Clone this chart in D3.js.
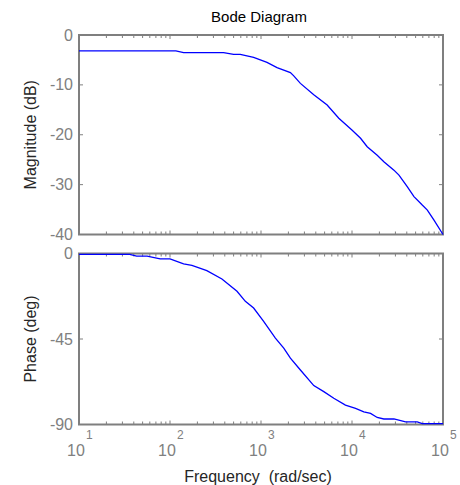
<!DOCTYPE html>
<html>
<head>
<meta charset="utf-8">
<script src="https://cdn.jsdelivr.net/npm/d3@7"></script>
<style>
  body { margin: 0; background: #fff; }
  text { font-family: "Liberation Sans", Arial, sans-serif; }
</style>
</head>
<body>
<svg id="chart"></svg>
<script>
// frequency (rad/sec) and magnitude (dB)
var magFreq = [10, 116, 141, 388, 500, 592, 830, 1164, 1500, 2104, 2291, 2710, 3802, 5333, 7161, 10046, 12417, 14689, 18923, 22387, 28907, 32810, 40458, 47973, 59156, 67298, 79616, 100000];
var magDb   = [-3.2, -3.2, -3.55, -3.55, -3.9, -3.9, -4.5, -5.5, -6.55, -7.55, -8.2, -9.7, -12.0, -14.05, -16.7, -19.1, -20.7, -22.4, -24.1, -25.4, -27.1, -28.1, -30.4, -32.4, -34.1, -35.1, -37.1, -40];

// frequency (rad/sec) and phase (deg)
var phFreq = [10, 36, 43, 56, 78, 100, 141, 174, 254, 372, 545, 673, 830, 1069, 1439, 1778, 2104, 2710, 3802, 4898, 6310, 8472, 10940, 13490, 15996, 18923, 22387, 28907, 38815, 52119, 59156, 100000];
var phDeg  = [-0.5, -0.5, -1.4, -1.4, -2.8, -2.8, -5.5, -6.2, -9.0, -13.4, -19.9, -25.2, -28.7, -35.7, -44.5, -49.8, -55.1, -61.3, -69.5, -72.7, -76.2, -79.8, -81.5, -83.3, -84.2, -86.3, -87.1, -87.1, -88.6, -88.6, -89.5, -89.5];

var magTicks = [0, -10, -20, -30, -40];
var phTicks = [0, -45, -90];
var decades = [10, 100, 1000, 10000, 100000];
var decadeExp = ["1", "2", "3", "4", "5"];

var width = 460, height = 485;
var left = 79, right = 443;

var svg = d3.select("#chart")
    .attr("width", width)
    .attr("height", height);

var x = d3.scaleLog().domain([10, 100000]).range([left, right]);

var yMag = d3.scaleLinear().domain([-40, 0]).range([234.5, 35]);
var yPh = d3.scaleLinear().domain([-90, 0]).range([424.5, 253.5]);

// minor log ticks 2..9 inside each decade
var minor = [];
decades.slice(0, 4).forEach(function(d) {
  for (var k = 2; k < 10; k++) minor.push(d * k);
});

var axisGray = "#7f7f7f";

function panel(y, ticks, yLabel) {
  var g = svg.append("g");
  var top = y.range()[1], bot = y.range()[0];

  // ticks along top and bottom, pointing inward
  [top, bot].forEach(function(yy, i) {
    var dir = i === 0 ? 1 : -1;
    g.selectAll(null).data(minor).enter().append("line")
      .attr("x1", function(d) { return x(d); })
      .attr("x2", function(d) { return x(d); })
      .attr("y1", yy).attr("y2", yy + dir * 3)
      .attr("stroke", axisGray).attr("stroke-width", 1);
    g.selectAll(null).data(decades).enter().append("line")
      .attr("x1", function(d) { return x(d); })
      .attr("x2", function(d) { return x(d); })
      .attr("y1", yy).attr("y2", yy + dir * 4)
      .attr("stroke", axisGray).attr("stroke-width", 1);
  });

  // y ticks on both sides
  [left, right].forEach(function(xx, i) {
    var dir = i === 0 ? 1 : -1;
    g.selectAll(null).data(ticks).enter().append("line")
      .attr("x1", xx).attr("x2", xx + dir * 4)
      .attr("y1", function(d) { return y(d); })
      .attr("y2", function(d) { return y(d); })
      .attr("stroke", axisGray).attr("stroke-width", 1);
  });

  g.selectAll(null).data(ticks).enter().append("text")
    .attr("x", left - 6)
    .attr("y", function(d) { return y(d); })
    .attr("dy", "0.35em")
    .attr("text-anchor", "end")
    .attr("fill", "#808080")
    .style("font-size", "16px")
    .text(function(d) { return d; });

  g.append("rect")
    .attr("x", left).attr("y", top)
    .attr("width", right - left).attr("height", bot - top)
    .attr("fill", "none")
    .attr("stroke", axisGray)
    .attr("stroke-width", 2);

  g.append("text")
    .attr("transform", "translate(" + 30 + "," + ((top + bot) / 2) + ") rotate(-90)")
    .attr("text-anchor", "middle")
    .attr("dy", "0.35em")
    .attr("fill", "#262626")
    .style("font-size", "16px")
    .text(yLabel);

  return g;
}

var gMag = panel(yMag, magTicks, "Magnitude (dB)");
var gPh = panel(yPh, phTicks, "Phase (deg)");

var magPts = magFreq.map(function(f, i) { return [f, magDb[i]]; });
var phPts = phFreq.map(function(f, i) { return [f, phDeg[i]]; });

gMag.append("path")
  .datum(magPts)
  .attr("fill", "none")
  .attr("stroke", "#0000ff")
  .attr("stroke-width", 1.3)
  .attr("d", d3.line().x(function(d) { return x(d[0]); }).y(function(d) { return yMag(d[1]); }));

gPh.append("path")
  .datum(phPts)
  .attr("fill", "none")
  .attr("stroke", "#0000ff")
  .attr("stroke-width", 1.3)
  .attr("d", d3.line().x(function(d) { return x(d[0]); }).y(function(d) { return yPh(d[1]); }));

// x tick labels as 10 with superscript exponent
svg.append("g").selectAll(null).data(decades).enter().append("text")
  .attr("x", function(d) { return x(d) - 3; })
  .attr("y", 456)
  .attr("text-anchor", "middle")
  .attr("fill", "#808080")
  .style("font-size", "16px")
  .text("10");
svg.append("g").selectAll(null).data(decades).enter().append("text")
  .attr("x", function(d) { return x(d) + 7; })
  .attr("y", 439)
  .attr("fill", "#808080")
  .style("font-size", "12px")
  .text(function(d, i) { return decadeExp[i]; });

svg.append("text")
  .attr("x", (left + right) / 2 - 3)
  .attr("y", 482)
  .attr("text-anchor", "middle")
  .attr("fill", "#262626")
  .style("font-size", "16px")
  .style("white-space", "pre")
  .text("Frequency  (rad/sec)");

svg.append("text")
  .attr("x", (left + right) / 2 - 2)
  .attr("y", 22)
  .attr("text-anchor", "middle")
  .attr("fill", "#000")
  .style("font-size", "15px")
  .text("Bode Diagram");
</script>
</body>
</html>
